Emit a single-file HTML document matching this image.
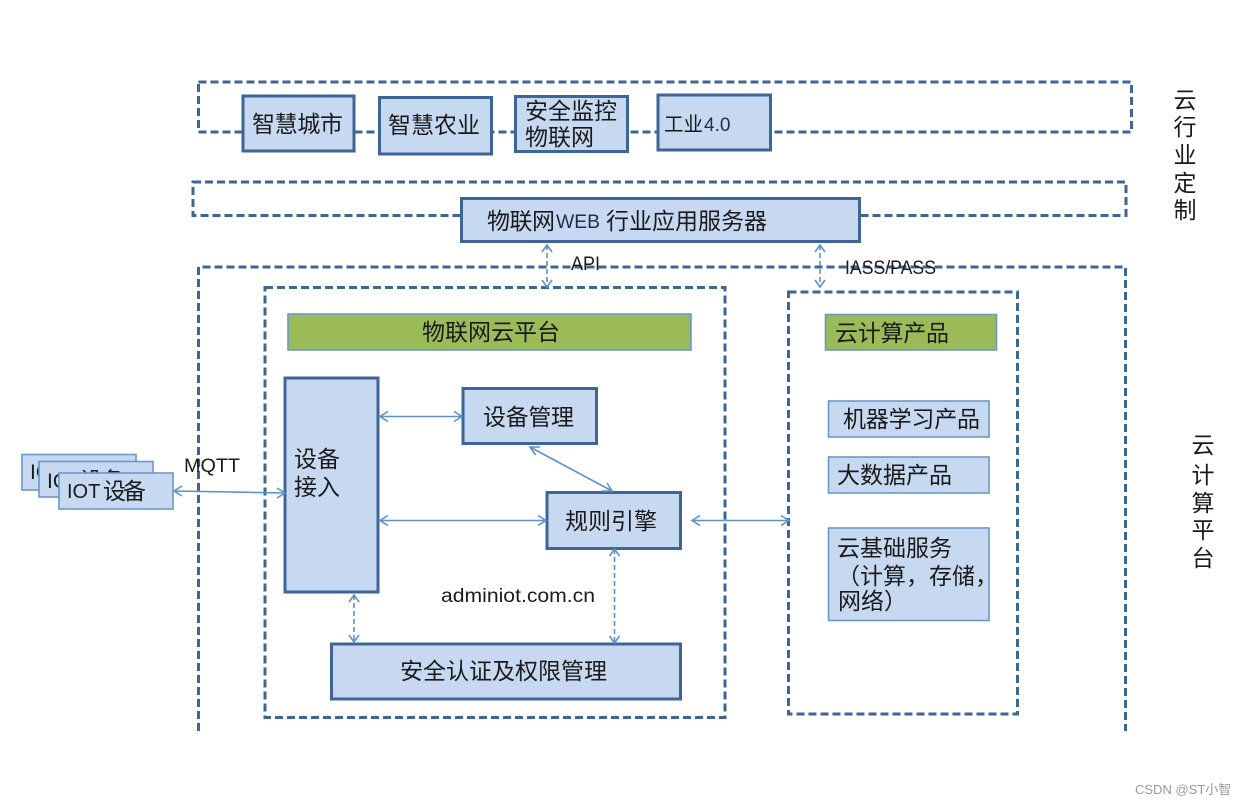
<!DOCTYPE html>
<html><head><meta charset="utf-8"><style>
html,body{margin:0;padding:0;background:#fff;width:1245px;height:805px;overflow:hidden}
svg{display:block}
text{font-family:"Liberation Sans","WenQuanYi Zen Hei","Noto Sans CJK SC",sans-serif;fill:#1a1a1a;font-size:23px}
.d{fill:none;stroke:#3d6595;stroke-width:3;stroke-dasharray:8 4}
.b{fill:#c6d9f1;stroke:#3d6595;stroke-width:3}
.t{fill:#c6d9f1;stroke:#6c97cb;stroke-width:1.6}
.g{fill:#9bbb59;stroke:#6c97cb;stroke-width:1.6}
.a{fill:none;stroke:#5f92c9;stroke-width:1.6}
.s{fill:none;stroke:#5f92c9;stroke-width:1.6;stroke-dasharray:5 3}
</style></head><body>
<svg width="1245" height="805" viewBox="0 0 1245 805" xmlns="http://www.w3.org/2000/svg">
<rect width="1245" height="805" fill="#fff"/>
<!-- dashed containers -->
<rect class="d" x="198.500" y="82" width="933" height="50"/>
<rect class="d" x="193" y="182" width="933" height="33.500"/>
<path class="d" d="M198.500 731V267H1125.500V731"/>
<rect class="d" x="265" y="287.500" width="460" height="430"/>
<rect class="d" x="788.500" y="292" width="229" height="422"/>

<!-- top boxes -->
<rect class="b" x="243" y="96" width="111" height="55"/>
<text x="252" y="132" textLength="91">智慧城市</text>
<rect class="b" x="379.500" y="97.500" width="112" height="56.500"/>
<text x="388" y="133" textLength="92">智慧农业</text>
<rect class="b" x="515.500" y="96.500" width="112" height="55"/>
<text x="525" y="119" textLength="92">安全监控</text>
<text x="525" y="145" textLength="69">物联网</text>
<rect class="b" x="658" y="95" width="112.500" height="55"/>
<text x="664" y="131" style="font-size:20px" textLength="39" lengthAdjust="spacingAndGlyphs">工业</text>
<text x="704" y="131" style="font-size:19px;fill:#1f2f4f">4.0</text>

<rect class="b" x="461.500" y="198.500" width="398" height="43"/>
<text x="487" y="229" textLength="68">物联网</text>
<text x="556" y="228" style="font-size:19px;fill:#1f2f4f" textLength="44" lengthAdjust="spacingAndGlyphs">WEB</text>
<text x="606" y="229" textLength="161">行业应用服务器</text>

<!-- side labels -->
<g text-anchor="middle">
<text x="1185" y="108">云</text><text x="1185" y="135">行</text><text x="1185" y="163">业</text><text x="1185" y="191">定</text><text x="1185" y="218">制</text>
<text x="1203" y="453">云</text><text x="1203" y="483">计</text><text x="1203" y="511">算</text><text x="1203" y="538">平</text><text x="1203" y="566">台</text>
</g>

<!-- IOT boxes -->
<rect class="t" x="22" y="454.500" width="114" height="35.500"/>
<text x="30" y="479" style="font-size:21px">IOT设备</text>
<rect class="t" x="39" y="461.500" width="114" height="35.500"/>
<text x="47" y="488" style="font-size:21px">IOT</text>
<text x="80" y="488" style="font-size:22px">设备</text>
<rect class="t" x="59" y="473" width="114" height="36"/>
<text x="67" y="498" style="font-size:20px">IOT</text>
<text x="103" y="499" textLength="43">设备</text>
<text x="184" y="472" style="font-size:19px" textLength="56" lengthAdjust="spacingAndGlyphs">MQTT</text>

<!-- platform -->
<rect class="g" x="288" y="314" width="403" height="36"/>
<text x="422" y="340" textLength="138">物联网云平台</text>
<rect class="b" x="285" y="378" width="93" height="214"/>
<text x="294" y="467" textLength="46">设备</text>
<text x="294" y="495" textLength="46">接入</text>
<rect class="b" x="463" y="388.500" width="133.500" height="55"/>
<text x="483" y="425" textLength="91">设备管理</text>
<rect class="b" x="547" y="492.500" width="133.500" height="56"/>
<text x="565" y="529" textLength="92">规则引擎</text>
<rect class="b" x="331.500" y="644" width="349" height="55"/>
<text x="400" y="679" textLength="207">安全认证及权限管理</text>
<text x="441" y="602" style="font-size:19px" textLength="154" lengthAdjust="spacingAndGlyphs">adminiot.com.cn</text>

<!-- cloud -->
<rect class="g" x="825.500" y="314.500" width="171" height="35.500"/>
<text x="835" y="341" textLength="114">云计算产品</text>
<rect class="t" x="828.500" y="401" width="160.500" height="36"/>
<text x="843" y="427" textLength="137">机器学习产品</text>
<rect class="t" x="828.500" y="457" width="160.500" height="36"/>
<text x="837" y="483" textLength="115">大数据产品</text>
<rect class="t" x="828.500" y="528" width="160.500" height="92.500"/>
<text x="837" y="556" textLength="115">云基础服务</text>
<text x="837" y="584">（计算，存储，</text>
<text x="838" y="609">网络）</text>

<!-- connectors -->
<g class="a">
<path d="M175 491L285 493M182 486L174 491L182 496M277 488L285 493L277 498"/>
<path d="M380 416.500H462M388 411.500L380 416.500L388 421.500M454 411.500L462 416.500L454 421.500"/>
<path d="M380 520.500H546M388 515.500L380 520.500L388 525.500M538 515.500L546 520.500L538 525.500"/>
<path d="M530 447L612 491M540 447L530 447L535.500 455M602 491L612 491L607 483"/>
<path d="M692 520.500H789M700 515.500L692 520.500L700 525.500M781 515.500L789 520.500L781 525.500"/>
<path d="M542 252L547 245L552 252M542 280L547 287L552 280"/>
<path d="M815 252L820 245L825 252M815 280L820 287L825 280"/>
<path d="M349 602L354 595L359 602M349 635L354 642L359 635"/>
<path d="M609.500 556L614.500 549L619.500 556M609.500 636L614.500 643L619.500 636"/>
</g>
<path class="s" d="M547 245V287"/>
<path class="s" d="M820 245V287"/>
<path class="s" d="M354 595V642"/>
<path class="s" d="M614.500 549V643"/>
<text x="571" y="270" style="font-size:19px" textLength="29" lengthAdjust="spacingAndGlyphs">API</text>
<text x="845" y="274" style="font-size:19px" textLength="91" lengthAdjust="spacingAndGlyphs">IASS/PASS</text>

<text x="1135" y="794" style="font-size:13px;fill:#9a9a9a">CSDN @ST小智</text>
</svg>
</body></html>
